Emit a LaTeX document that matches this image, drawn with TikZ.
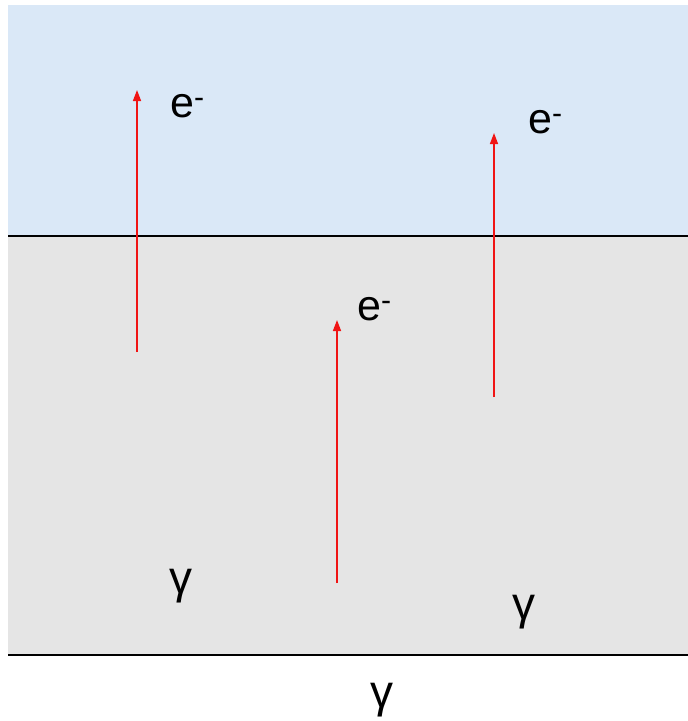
\documentclass[tikz,border=0pt]{standalone}
\usepackage{fontspec}
\setmainfont{Liberation Sans}
\usetikzlibrary{arrows.meta, positioning}
\definecolor{skyblue}{RGB}{218,232,247}
\definecolor{rockgray}{RGB}{229,229,229}
\definecolor{trackred}{RGB}{240,20,20}

\begin{document}
\begin{tikzpicture}[
    x=1pt, y=-1pt,
    particle/.style={font=\fontsize{43}{48}\selectfont, inner sep=0pt, anchor=base west},
    photon/.style={font=\fontsize{46}{50}\selectfont, inner sep=0pt},
    track/.style={-{Triangle[length=11pt, width=8pt]}, line width=1.4pt, trackred}
]
\useasboundingbox (0,0) rectangle (688,721);

% layers
\fill[skyblue] (8,5) rectangle (688,236);
\fill[rockgray] (8,236) rectangle (688,655);
\draw[line width=1.3pt] (8,236) -- (688,236);
\draw[line width=1.3pt] (8,655) -- (688,655);

% electron tracks
\coordinate (start1) at (137,352);
\coordinate (end1) at (137,90);
\coordinate (start2) at (494,397);
\coordinate (end2) at (494,133);
\coordinate (start3) at (337,583);
\coordinate (end3) at (337,320);

\draw[track] (start1) -- (end1);
\draw[track] (start2) -- (end2);
\draw[track] (start3) -- (end3);

% labels
\node[particle] (elec1) at (170,117) {e\textsuperscript{-}};
\node[particle] (elec2) at (528,133) {e\textsuperscript{-}};
\node[particle] (elec3) at (357,320) {e\textsuperscript{-}};

\node[photon] (gamma1) at (181,586) {γ};
\node[photon] (gamma2) at (524,612) {γ};
\node[photon] (gamma3) at (382,700) {γ};

\end{tikzpicture}
\end{document}
